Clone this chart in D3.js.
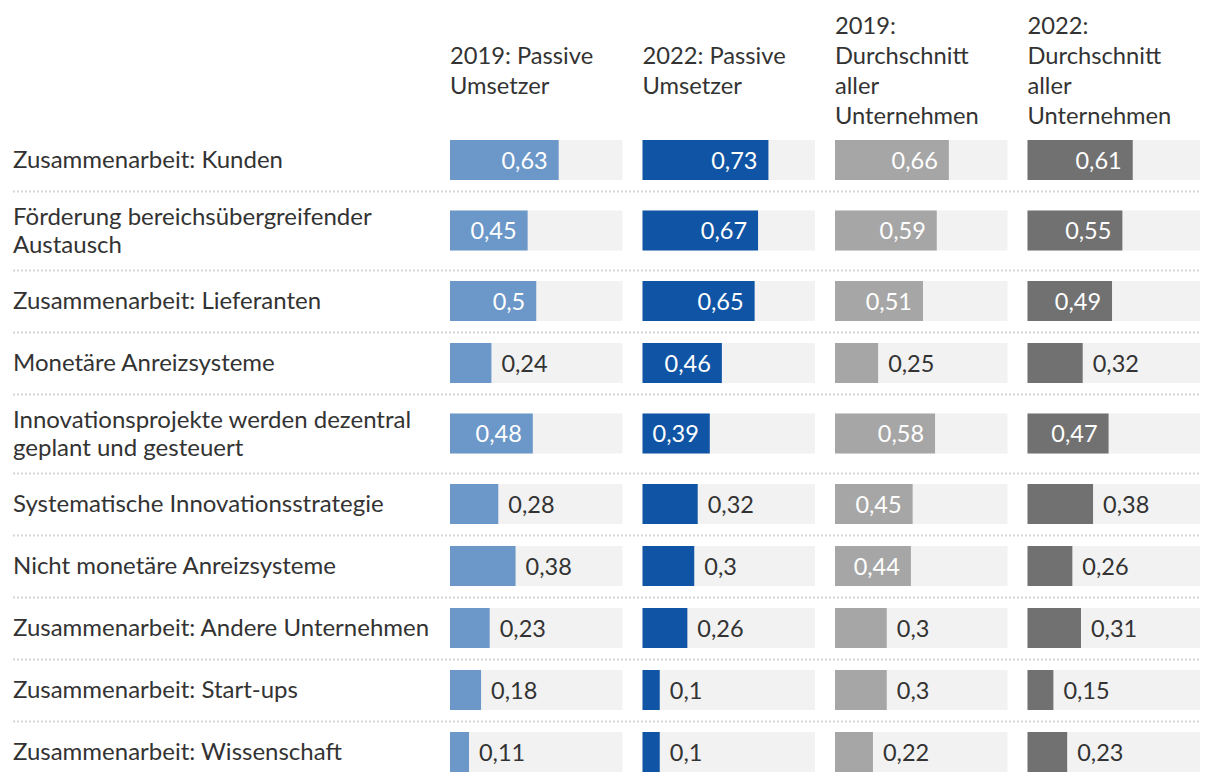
<!DOCTYPE html>
<html>
<head>
<meta charset="utf-8">
<script src="https://cdn.jsdelivr.net/npm/d3@7"></script>
<style>
  html, body { margin: 0; padding: 0; background: #fff; }
  svg text { font-family: Lato, "Noto Sans", sans-serif; }
</style>
</head>
<body>
<svg id="chart" width="1220" height="784"></svg>
<script>
// ---- data ----
const categories = [
  "Zusammenarbeit: Kunden",
  "Förderung bereichsübergreifender\nAustausch",
  "Zusammenarbeit: Lieferanten",
  "Monetäre Anreizsysteme",
  "Innovationsprojekte werden dezentral\ngeplant und gesteuert",
  "Systematische Innovationsstrategie",
  "Nicht monetäre Anreizsysteme",
  "Zusammenarbeit: Andere Unternehmen",
  "Zusammenarbeit: Start-ups",
  "Zusammenarbeit: Wissenschaft"
];
const seriesNames = [
  "2019: Passive\nUmsetzer",
  "2022: Passive\nUmsetzer",
  "2019:\nDurchschnitt\naller\nUnternehmen",
  "2022:\nDurchschnitt\naller\nUnternehmen"
];
const passive2019 = [0.63, 0.45, 0.5, 0.24, 0.48, 0.28, 0.38, 0.23, 0.18, 0.11];
const passive2022 = [0.73, 0.67, 0.65, 0.46, 0.39, 0.32, 0.3, 0.26, 0.1, 0.1];
const avg2019     = [0.66, 0.59, 0.51, 0.25, 0.58, 0.45, 0.44, 0.3, 0.3, 0.22];
const avg2022     = [0.61, 0.55, 0.49, 0.32, 0.47, 0.38, 0.26, 0.31, 0.15, 0.23];
const seriesValues = [passive2019, passive2022, avg2019, avg2022];
const colors = ["#6b97c9", "#0f54a5", "#a6a6a6", "#717171"];

// ---- layout ----
const svg = d3.select("#chart");
const headerFont = 23.7, labelFont = 24, valueFont = 23.5;
const textColor = "#333333";
const labelX = 13;
const colStart = 450, colEnd = 1200, colGap = 20;

const colW = (colEnd - colStart - colGap * (seriesNames.length - 1)) / seriesNames.length;
const colX = i => colStart + i * (colW + colGap);

const x = d3.scaleLinear().domain([0, 1]).range([0, colW]);

const lineCount = s => s.split("\n").length;
const singleH = 62, doubleH = 79;
const rowHeights = categories.map(c => lineCount(c) > 1 ? doubleH : singleH);
const rowTops = [];
let acc = 129;
rowHeights.forEach(h => { rowTops.push(acc); acc += h; });

const barH = 40;
const baseOff = 8.5; // baseline offset from visual centre

// ---- header ----
const headerCenter = 70, headerLH = 30;
seriesNames.forEach((name, i) => {
  const lines = name.split("\n");
  const t = svg.append("text")
    .attr("x", colX(i))
    .attr("font-size", headerFont)
    .attr("fill", textColor);
  lines.forEach((ln, k) => {
    t.append("tspan")
      .attr("x", colX(i))
      .attr("y", headerCenter - (lines.length - 1) * headerLH / 2 + k * headerLH + baseOff)
      .text(ln);
  });
});

// ---- separators ----
rowTops.slice(1).forEach(y => {
  svg.append("line")
    .attr("x1", labelX).attr("x2", colEnd)
    .attr("y1", y + 0.5).attr("y2", y + 0.5)
    .attr("stroke", "#d6d6d6")
    .attr("stroke-width", 2)
    .attr("stroke-dasharray", "2,2");
});

// ---- rows ----
const labelLH = 28;
categories.forEach((cat, r) => {
  const cy = rowTops[r] + rowHeights[r] / 2;
  const lines = cat.split("\n");
  const t = svg.append("text")
    .attr("font-size", labelFont)
    .attr("fill", textColor);
  lines.forEach((ln, k) => {
    t.append("tspan")
      .attr("x", labelX)
      .attr("y", cy - (lines.length - 1) * labelLH / 2 + k * labelLH + baseOff - 0.5)
      .text(ln);
  });
});

seriesValues.forEach((vals, i) => {
  const g = svg.append("g").attr("transform", `translate(${colX(i)},0)`);
  g.selectAll("rect.bg").data(vals).join("rect")
    .attr("class", "bg")
    .attr("x", 0)
    .attr("y", (d, r) => rowTops[r] + rowHeights[r] / 2 - barH / 2)
    .attr("width", x(1))
    .attr("height", barH)
    .attr("fill", "#f2f2f2");
  g.selectAll("rect.bar").data(vals).join("rect")
    .attr("class", "bar")
    .attr("x", x(0))
    .attr("y", (d, r) => rowTops[r] + rowHeights[r] / 2 - barH / 2)
    .attr("width", d => x(d))
    .attr("height", barH)
    .attr("fill", colors[i]);
  g.selectAll("text.val").data(vals).join("text")
    .attr("class", "val")
    .attr("font-size", valueFont)
    .attr("y", (d, r) => rowTops[r] + rowHeights[r] / 2 + baseOff)
    .text(d => String(d).replace(".", ","))
    .each(function (d) {
      const w = this.getComputedTextLength();
      const bw = x(d);
      const sel = d3.select(this);
      if (bw - w >= 21) {
        sel.attr("x", bw - 11).attr("text-anchor", "end").attr("fill", "#ffffff");
      } else {
        sel.attr("x", bw + 10).attr("text-anchor", "start").attr("fill", textColor);
      }
    });
});
</script>
</body>
</html>
